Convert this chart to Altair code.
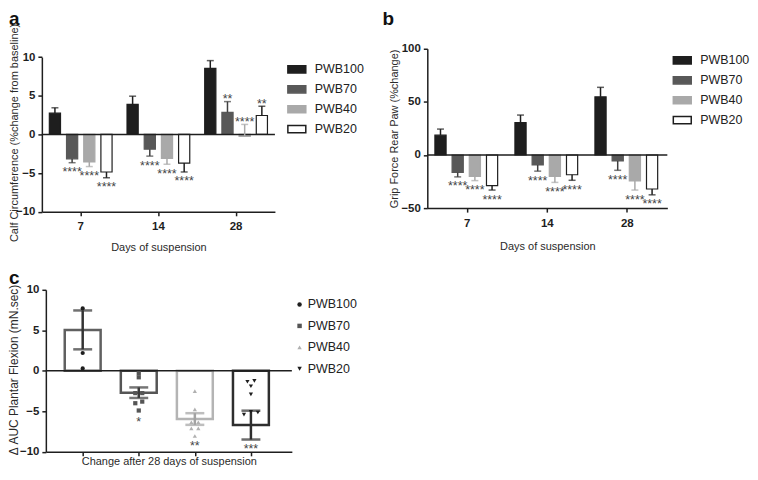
import altair as alt
import pandas as pd

FONT = "Liberation Sans"

groups = ["PWB100", "PWB70", "PWB40", "PWB20"]
days = ["7", "14", "28"]
panel_letters = ["a", "b", "c"]

# ---- panel a: calf circumference (% change from baseline) ----
calf_mean_d7 = [2.75, -3.15, -3.55, -4.85]
calf_mean_d14 = [3.9, -1.9, -3.1, -3.7]
calf_mean_d28 = [8.55, 2.85, -0.25, 2.45]
calf_err_d7 = [3.45, -3.65, -4.15, -5.6]
calf_err_d14 = [4.95, -2.8, -3.85, -4.85]
calf_err_d28 = [9.55, 4.25, 1.3, 3.65]
calf_stars_d7 = ["", "****", "****", "****"]
calf_stars_d14 = ["", "****", "****", "****"]
calf_stars_d28 = ["", "**", "****", "**"]

# ---- panel b: grip force rear paw (% change) ----
grip_mean_d7 = [18.7, -16.4, -20.2, -28.9]
grip_mean_d14 = [30.4, -9.4, -20.1, -18.6]
grip_mean_d28 = [54.7, -5.6, -24.4, -32.0]
grip_err_d7 = [24.4, -20.6, -24.1, -33.0]
grip_err_d14 = [37.6, -15.2, -25.8, -23.8]
grip_err_d28 = [63.7, -14.4, -33.0, -37.5]
grip_stars_d7 = ["", "****", "****", "****"]
grip_stars_d14 = ["", "****", "****", "****"]
grip_stars_d28 = ["", "****", "****", "****"]

# ---- panel c: delta AUC plantar flexion ----
auc_mean = [5.05, -2.7, -5.95, -6.7]
auc_sem = [2.4, 0.65, 0.72, 1.78]
auc_pts_pwb100 = [7.7, 2.2, 0.3]
auc_pts_pwb70 = [-0.3, -0.8, -2.75, -2.75, -3.8, -4.0, -4.9]
auc_pts_pwb40 = [-2.5, -4.75, -6.35, -6.35, -7.1, -7.1, -8.05]
auc_pts_pwb20 = [-1.35, -1.25, -1.9, -2.9, -5.4, -5.15, -5.05]
auc_slot_pwb100 = [0, 0, 0]
auc_slot_pwb70 = [0, 0, -1, 1, 1, -1, 0]
auc_slot_pwb40 = [0, 0, -1, 1, -1, 1, 0]
auc_slot_pwb20 = [-1, 1, 0, 0, -2, 2, 0]
auc_stars = ["", "*", "**", "***"]
auc_star_y = [0.0, -6.1, -9.0, -9.4]

# styles
fill_colors = ["#1e1e1e", "#585858", "#a9a9a9", "#ffffff"]
edge_colors = ["#1e1e1e", "#585858", "#a9a9a9", "#1e1e1e"]
err_colors = ["#1e1e1e", "#404040", "#a9a9a9", "#1e1e1e"]
c_box_colors = ["#606060", "#555555", "#b4b4b4", "#2e2e2e"]
c_err_colors = ["#333333", "#3a3a3a", "#a2a2a2", "#2e2e2e"]
c_pt_colors = ["#1e1e1e", "#555555", "#b0b0b0", "#1e1e1e"]
c_shapes = ["circle", "square", "triangle-up", "triangle-down"]
INK = "#1e1e1e"


def color_expr(colors):
    expr = "'%s'" % colors[-1]
    for g, c in reversed(list(zip(groups[:-1], colors[:-1]))):
        expr = "datum.group === '%s' ? '%s' : (%s)" % (g, c, expr)
    return expr


def grouped_df(means, errs, stars):
    rows = []
    for d, m_list, e_list, s_list in zip(days, means, errs, stars):
        for g, m, e, s in zip(groups, m_list, e_list, s_list):
            rows.append({"day": d, "group": g, "mean": m, "err": e, "stars": s})
    return pd.DataFrame(rows)


def bar_panel(df, letter, ydomain, yvalues, width, height, yrange, ytitle,
              ytitle_x, ytitle_y, xtitle_y, letter_x, letter_y, legend_x, legend_y):
    skw = dict(domain=ydomain, nice=False, zero=False)
    if yrange is not None:
        skw["range"] = yrange
    yscale = alt.Scale(**skw)
    akw = dict(values=yvalues, title=ytitle, titleX=ytitle_x, titleLimit=400)
    if ytitle_y is not None:
        akw["titleY"] = ytitle_y
    yaxis = alt.Axis(**akw)
    xenc = alt.X("day:N", sort=days,
                 scale=alt.Scale(paddingInner=0.115, paddingOuter=0.0575),
                 axis=alt.Axis(labelAngle=0, title="Days of suspension",
                               titleY=xtitle_y, labelPadding=5))
    xoff = alt.XOffset("group:N", sort=groups,
                       scale=alt.Scale(paddingInner=0.35, paddingOuter=0.175))
    legend = alt.Legend(orient="none", legendX=legend_x, legendY=legend_y,
                        symbolType="M-1,-0.4H1V0.4H-1Z", symbolSize=324,
                        symbolStrokeWidth=1.5, labelOffset=8, rowPadding=3,
                        padding=0, labelFontSize=12.5)
    base = alt.Chart(df)
    bars = base.mark_bar(strokeWidth=1.2).encode(
        x=xenc, xOffset=xoff,
        y=alt.Y("mean:Q", scale=yscale, axis=yaxis),
        y2=alt.datum(0),
        fill=alt.Fill("group:N", scale=alt.Scale(domain=groups, range=fill_colors),
                      legend=legend, title=None),
        stroke=alt.Stroke("group:N", scale=alt.Scale(domain=groups, range=edge_colors),
                          legend=legend, title=None),
    )
    zero = alt.Chart(pd.DataFrame({"v": [0]})).mark_rule(color=INK, strokeWidth=1.5).encode(
        y=alt.Y("v:Q", scale=yscale, axis=yaxis))
    ecolor = alt.Color("group:N", scale=alt.Scale(domain=groups, range=err_colors), legend=None)
    whisk = base.mark_rule(strokeWidth=1.5).encode(
        x=xenc, xOffset=xoff,
        y=alt.Y("mean:Q", scale=yscale, axis=yaxis), y2="err:Q", color=ecolor)
    caps = base.mark_tick(thickness=1.5, size=7).encode(
        x=xenc, xOffset=xoff,
        y=alt.Y("err:Q", scale=yscale, axis=yaxis), color=ecolor)
    stars_below = base.transform_filter(
        "datum.err < datum.mean && datum.stars != ''").mark_text(
        baseline="middle", dy=9.5, fontSize=12.5, color="#444").encode(
        x=xenc, xOffset=xoff, y=alt.Y("err:Q", scale=yscale, axis=yaxis), text="stars:N")
    stars_above = base.transform_filter(
        "datum.err > datum.mean && datum.stars != ''").mark_text(
        baseline="middle", dy=-2.5, fontSize=12.5, color="#444").encode(
        x=xenc, xOffset=xoff, y=alt.Y("err:Q", scale=yscale, axis=yaxis), text="stars:N")
    let = alt.Chart(pd.DataFrame({"letter": [letter]})).mark_text(
        align="left", baseline="top", fontSize=19, fontWeight="bold", color="#111").encode(
        x=alt.value(letter_x), y=alt.value(letter_y), text="letter:N")
    return alt.layer(bars, zero, whisk, caps, stars_below, stars_above, let).properties(
        width=width, height=height)


df_a = grouped_df([calf_mean_d7, calf_mean_d14, calf_mean_d28],
                  [calf_err_d7, calf_err_d14, calf_err_d28],
                  [calf_stars_d7, calf_stars_d14, calf_stars_d28])
df_b = grouped_df([grip_mean_d7, grip_mean_d14, grip_mean_d28],
                  [grip_err_d7, grip_err_d14, grip_err_d28],
                  [grip_stars_d7, grip_stars_d14, grip_stars_d28])

panel_a = bar_panel(df_a, panel_letters[0], [-10, 10], [-10, -5, 0, 5, 10], 234, 163.7,
                    [163.7, 8.4], "Calf Circumference (%change from baseline)",
                    -22, 84, 30, -33, -39.3, 246, 10.7)
panel_b = bar_panel(df_b, panel_letters[1], [-50, 100], [-50, 0, 50, 100], 241, 160,
                    None, "Grip Force Rear Paw (%change)",
                    -28, None, 33, -45, -39.3, 246, 1.7)

# ---- panel c ----
c_box_df = pd.DataFrame({"group": groups, "idx": list(range(len(groups))),
                         "mean": auc_mean, "sem": auc_sem})
pt_rows = []
for i, (g, vals, slots) in enumerate(zip(groups,
                                         [auc_pts_pwb100, auc_pts_pwb70, auc_pts_pwb40, auc_pts_pwb20],
                                         [auc_slot_pwb100, auc_slot_pwb70, auc_slot_pwb40, auc_slot_pwb20])):
    for v, s in zip(vals, slots):
        pt_rows.append({"group": g, "idx": i, "val": v, "slot": s})
c_pts_df = pd.DataFrame(pt_rows)
c_star_df = pd.DataFrame({"group": groups, "idx": list(range(len(groups))),
                          "stars": auc_stars, "sy": auc_star_y})
c_zero_df = pd.DataFrame({"x0": [-0.657], "x1": [3.73], "v": [0]})

xscale_c = alt.Scale(domain=[-0.657, 3.73], range=[4, 251], nice=False, zero=False)
xaxis_c = alt.Axis(values=[0, 1, 2, 3], labels=False, tickSize=4,
                   title="Change after 28 days of suspension", titleY=4, titleLimit=400)
yscale_c = alt.Scale(domain=[-10, 10], nice=False, zero=False)
yaxis_c = alt.Axis(values=[-10, -5, 0, 5, 10], title="Δ AUC Plantar Flexion (mN.sec)",
                   titleX=-25, titleY=80, offset=-4, titleLimit=400, titleFontSize=12)


def XC(f):
    return alt.X(f, type="quantitative", scale=xscale_c, axis=xaxis_c)


def YC(f):
    return alt.Y(f, type="quantitative", scale=yscale_c, axis=yaxis_c)


c_legend = alt.Legend(orient="none", legendX=252.5, legendY=8.5, symbolSize=20,
                      labelOffset=2, rowPadding=8.5, padding=0, labelFontSize=12.5)

boxes = alt.Chart(c_box_df).transform_calculate(
    x0="datum.idx - 0.32", x1="datum.idx + 0.32", boxcol=color_expr(c_box_colors)).mark_rect(
    fill="white", strokeWidth=2.5).encode(
    x=XC("x0"), x2="x1:Q", y=YC("mean"), y2=alt.datum(0),
    stroke=alt.Stroke("boxcol:N", scale=None))
zero_c = alt.Chart(c_zero_df).mark_rule(color=INK, strokeWidth=1.5).encode(
    x=XC("x0"), x2="x1:Q", y=YC("v"))
whisk_c = alt.Chart(c_box_df).transform_calculate(
    lo="datum.mean - datum.sem", hi="datum.mean + datum.sem",
    errcol=color_expr(c_err_colors)).mark_rule(strokeWidth=2.5).encode(
    x=XC("idx"), y=YC("lo"), y2="hi:Q", stroke=alt.Stroke("errcol:N", scale=None))
caps_c = alt.Chart(c_box_df).transform_calculate(
    lo="datum.mean - datum.sem", hi="datum.mean + datum.sem",
    errcol=color_expr(c_err_colors)).transform_fold(
    ["lo", "hi"], as_=["end", "yv"]).mark_tick(orient="horizontal", size=19, thickness=2.5).encode(
    x=XC("idx"), y=YC("yv"), fill=alt.Fill("errcol:N", scale=None))
points_c = alt.Chart(c_pts_df).transform_calculate(
    xpos="datum.idx + datum.slot * 0.062").mark_point(filled=True, size=18, opacity=1).encode(
    x=XC("xpos"), y=YC("val"),
    color=alt.Color("group:N", scale=alt.Scale(domain=groups, range=c_pt_colors),
                    legend=c_legend, title=None),
    shape=alt.Shape("group:N", scale=alt.Scale(domain=groups, range=c_shapes),
                    legend=c_legend, title=None))
stars_c = alt.Chart(c_star_df).transform_filter("datum.stars != ''").mark_text(
    baseline="middle", dy=2, fontSize=12.5, color="#444").encode(
    x=XC("idx"), y=YC("sy"), text="stars:N")
letter_c = alt.Chart(pd.DataFrame({"letter": [panel_letters[2]]})).mark_text(
    align="left", baseline="top", fontSize=19, fontWeight="bold", color="#111").encode(
    x=alt.value(-33), y=alt.value(-21), text="letter:N")

panel_c = alt.layer(boxes, zero_c, whisk_c, caps_c, points_c, stars_c, letter_c).properties(
    width=251, height=162.7)

chart = alt.concat(panel_a, panel_b, panel_c, columns=2,
                   spacing={"row": 78, "column": 136}, bounds="flush").resolve_scale(
    fill="independent", stroke="independent", color="independent", shape="independent"
).resolve_legend(
    fill="independent", stroke="independent", color="independent", shape="independent"
).properties(
    padding=0
).configure(font=FONT).configure_view(strokeWidth=0).configure_axis(
    labelFont=FONT, labelFontWeight="bold", labelFontSize=11.5, labelColor=INK,
    titleFont=FONT, titleFontSize=11, titleFontWeight="normal", titleColor="#2a2a2a",
    domainColor=INK, domainWidth=1.5, tickColor=INK, tickWidth=1.5, tickSize=4,
    grid=False, labelPadding=3
).configure_legend(labelFont=FONT, labelColor="#222222")

chart.save("out.html", embed_options={"renderer": "svg", "actions": False})
